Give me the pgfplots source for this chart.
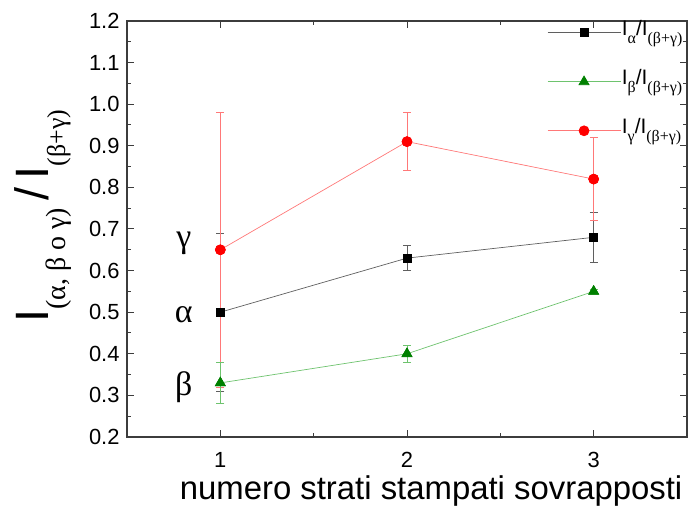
\documentclass[border=0pt]{standalone}
\usepackage{fontspec}
\setmainfont{Liberation Sans}
\newfontfamily\serif{Liberation Serif}
\usepackage{pgfplots}
\pgfplotsset{compat=1.18}
\definecolor{redline}{RGB}{255,120,120}
\definecolor{greenline}{RGB}{110,195,110}
\definecolor{greenmark}{RGB}{0,128,0}
\definecolor{grayline}{RGB}{95,95,95}
\definecolor{axisgray}{RGB}{60,60,60}
\newcommand{\legent}[1]{\raisebox{-14bp}{\fontsize{21}{22}\selectfont I\raisebox{-8bp}{\serif\fontsize{16}{17}\selectfont #1}/I\raisebox{-8bp}{\serif\fontsize{16}{17}\selectfont (β+γ)}}}
\begin{document}
\begin{tikzpicture}
\begin{axis}[
  scale only axis, width=560bp, height=416bp, clip=false,
  xmin=0.5, xmax=3.5, ymin=0.2, ymax=1.2,
  xtick={1,2,3}, minor xtick={1.5,2.5},
  ytick={0.2,0.3,0.4,0.5,0.6,0.7,0.8,0.9,1.0,1.1,1.2},
  minor ytick={0.25,0.35,0.45,0.55,0.65,0.75,0.85,0.95,1.05,1.15},
  tick align=inside,
  major tick length=7bp, minor tick length=4bp,
  tick style={axisgray, line width=1bp},
  axis line style={axisgray, line width=1.5bp},
  /pgf/number format/assume math mode=true,
  yticklabel style={/pgf/number format/fixed, /pgf/number format/fixed zerofill, /pgf/number format/precision=1, xshift=-4bp},
  xticklabel style={yshift=-12bp},
  ticklabel style={font=\fontsize{22}{24}\selectfont},
  xlabel={numero strati stampati sovrapposti},
  xlabel style={font=\fontsize{33}{36}\selectfont, at={(rel axis cs:0.543,-0.1514)}, anchor=base},
  legend image code/.code={\draw[mark repeat=2, mark phase=2, #1] plot coordinates {(0bp,0bp) (36.5bp,0bp) (73bp,0bp)};},
  legend style={draw=none, fill=none, at={(rel axis cs:0.75,1.031)}, anchor=north west, inner sep=0pt,
    /tikz/row sep=0bp, /tikz/column sep=0bp,
    nodes={inner sep=1bp, text height=12bp, text depth=35bp}},
  legend cell align=left,
]
% error bars (drawn first, under the final markers)
\addplot[only marks, mark=square*, mark size=4bp, mark options={fill=black, draw=black}, forget plot,
  error bars/.cd, y dir=both, y explicit,
  error bar style={draw=grayline, line width=0.7bp}, error mark options={rotate=90, draw=grayline, line width=0.7bp, mark size=4bp}]
  coordinates {(1,0.50) +- (0,0.19) (2,0.63) +- (0,0.03) (3,0.68) +- (0,0.06)};
\addplot[only marks, mark=*, mark size=5bp, mark options={fill=red, draw=red}, forget plot,
  error bars/.cd, y dir=both, y explicit,
  error bar style={draw=redline, line width=0.7bp}, error mark options={rotate=90, draw=redline, line width=0.7bp, mark size=4bp}]
  coordinates {(1,0.65) +- (0,0.33) (2,0.91) +- (0,0.07) (3,0.82) +- (0,0.10)};
\addplot[only marks, mark=triangle*, mark size=5.8bp, mark options={fill=greenmark, draw=greenmark}, forget plot,
  error bars/.cd, y dir=both, y explicit,
  error bar style={draw=greenline, line width=0.7bp}, error mark options={rotate=90, draw=greenline, line width=0.7bp, mark size=4bp}]
  coordinates {(1,0.33) +- (0,0.05) (2,0.40) +- (0,0.02) (3,0.55) +- (0,0.005)};
% series
\addplot[grayline, line width=0.7bp, mark=square*, mark size=4bp, mark options={solid, fill=black, draw=black}]
  coordinates {(1,0.50) (2,0.63) (3,0.68)};
\addlegendentry{\legent{α}}
\addplot[greenline, line width=0.7bp, mark=triangle*, mark size=5.8bp, mark options={solid, fill=greenmark, draw=greenmark}]
  coordinates {(1,0.33) (2,0.40) (3,0.55)};
\addlegendentry{\legent{β}}
\addplot[redline, line width=0.7bp, mark=*, mark size=5bp, mark options={solid, fill=red, draw=red}]
  coordinates {(1,0.65) (2,0.91) (3,0.82)};
\addlegendentry{\legent{γ}}
% greek labels
\node[font=\serif\fontsize{34}{36}\selectfont] at (axis cs:0.804,0.666) {γ};
\node[font=\serif\fontsize{34}{36}\selectfont] at (axis cs:0.804,0.493) {α};
\node[font=\serif\fontsize{34}{36}\selectfont] at (axis cs:0.804,0.320) {β};
% y label
\node[rotate=90, anchor=base, inner sep=0pt] at (rel axis cs:-0.141,0.531)
  {{\fontsize{47}{50}\selectfont I}\raisebox{-17bp}{\serif\fontsize{28}{30}\selectfont (α, β o γ)}\hspace{8bp}{\fontsize{47}{50}\selectfont /}\hspace{8bp}{\fontsize{47}{50}\selectfont I}\raisebox{-17bp}{\serif\fontsize{26}{28}\selectfont (β+γ)}};
\end{axis}
\pgfresetboundingbox
\path (-127bp,-70bp) rectangle (564bp,437bp);
\end{tikzpicture}
\end{document}
